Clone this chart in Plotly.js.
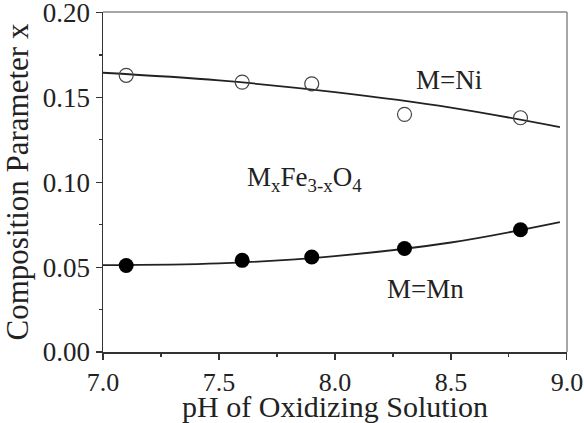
<!DOCTYPE html>
<html>
<head>
<meta charset="utf-8">
<script src="https://cdn.plot.ly/plotly-3.0.1.min.js"></script>
<style>html,body{margin:0;padding:0;background:#fff;}#chart{width:584px;height:423px;}</style>
</head>
<body>
<div id="chart"></div>
<script>
// Measured points
const phPoints = [7.1, 7.6, 7.9, 8.3, 8.8];
const niValues = [0.163, 0.159, 0.158, 0.140, 0.138];
const mnValues = [0.051, 0.054, 0.056, 0.061, 0.072];
// Fitted curves
const fitPh = [7.0, 7.5, 8.0, 8.5, 8.97];
const niFit = [0.1645, 0.1600, 0.1531, 0.1440, 0.1325];
const mnFit = [0.0512, 0.0522, 0.0565, 0.0645, 0.0765];
// Tick labels
const yTicks = [0, 0.05, 0.10, 0.15, 0.20];
const yTickText = ['0.00', '0.05', '0.10', '0.15', '0.20'];
const xTicks = [7.0, 7.5, 8.0, 8.5, 9.0];
const xTickText = ['7.0', '7.5', '8.0', '8.5', '9.0'];

const SERIF = 'Liberation Serif';
const INK = '#222222';

function fnt(sz) { return {family: SERIF, size: sz, color: INK}; }

const traces = [
  {x: fitPh, y: niFit, mode: 'lines', line: {color: '#222', width: 1.8, shape: 'spline'}, hoverinfo: 'skip'},
  {x: fitPh, y: mnFit, mode: 'lines', line: {color: '#222', width: 1.8, shape: 'spline'}, hoverinfo: 'skip'},
  {x: phPoints, y: niValues, mode: 'markers', marker: {symbol: 'circle-open', size: 14, color: '#444', line: {width: 1.2}}},
  {x: phPoints, y: mnValues, mode: 'markers', marker: {symbol: 'circle', size: 15, color: '#000'}}
];

const layout = {
  width: 584, height: 423,
  margin: {l: 103, r: 17, t: 12, b: 71},
  paper_bgcolor: '#fff', plot_bgcolor: '#fff',
  showlegend: false,
  font: fnt(26),
  xaxis: {
    range: [7.0, 9.0005], tickmode: 'array', tickvals: xTicks, ticktext: xTickText,
    ticks: 'outside', ticklen: 6, tickwidth: 1.2, tickcolor: '#333',
    minor: {dtick: 0.25, ticks: 'outside', ticklen: 3, tickcolor: '#333'},
    showline: true, linecolor: '#333', linewidth: 1.5, showgrid: false, zeroline: false,
    ticklabeloverflow: 'allow',
    tickfont: fnt(26),
    title: {text: 'pH of Oxidizing Solution', font: fnt(30), standoff: 2}
  },
  yaxis: {
    range: [0, 0.2003], tickmode: 'array', tickvals: yTicks, ticktext: yTickText,
    ticks: 'outside', ticklen: 6, tickwidth: 1.2, tickcolor: '#333',
    minor: {dtick: 0.025, ticks: 'outside', ticklen: 3, tickcolor: '#333'},
    showline: true, linecolor: '#333', linewidth: 1.5, showgrid: false, zeroline: false,
    ticklabeloverflow: 'allow',
    tickfont: fnt(27),
    title: {text: 'Composition Parameter x', font: fnt(31), standoff: 6}
  },
  shapes: [
    {type: 'line', xref: 'paper', yref: 'paper', x0: 0, x1: 1, y0: 1, y1: 1, line: {color: '#888', width: 1.5}},
    {type: 'line', xref: 'paper', yref: 'paper', x0: 1, x1: 1, y0: 0, y1: 1, line: {color: '#888', width: 1.5}}
  ],
  annotations: [
    {x: 8.49, y: 0.160, xref: 'x', yref: 'y', text: 'M=Ni', showarrow: false, xanchor: 'center', yanchor: 'middle', font: fnt(27)},
    {x: 7.87, y: 0.102, xref: 'x', yref: 'y', text: 'M<sub>x</sub>Fe<sub>3-x</sub>O<sub>4</sub>', showarrow: false, xanchor: 'center', yanchor: 'middle', font: fnt(27)},
    {x: 8.39, y: 0.037, xref: 'x', yref: 'y', text: 'M=Mn', showarrow: false, xanchor: 'center', yanchor: 'middle', font: fnt(27)}
  ]
};

Plotly.newPlot('chart', traces, layout, {displayModeBar: false, staticPlot: true});
</script>
</body>
</html>
